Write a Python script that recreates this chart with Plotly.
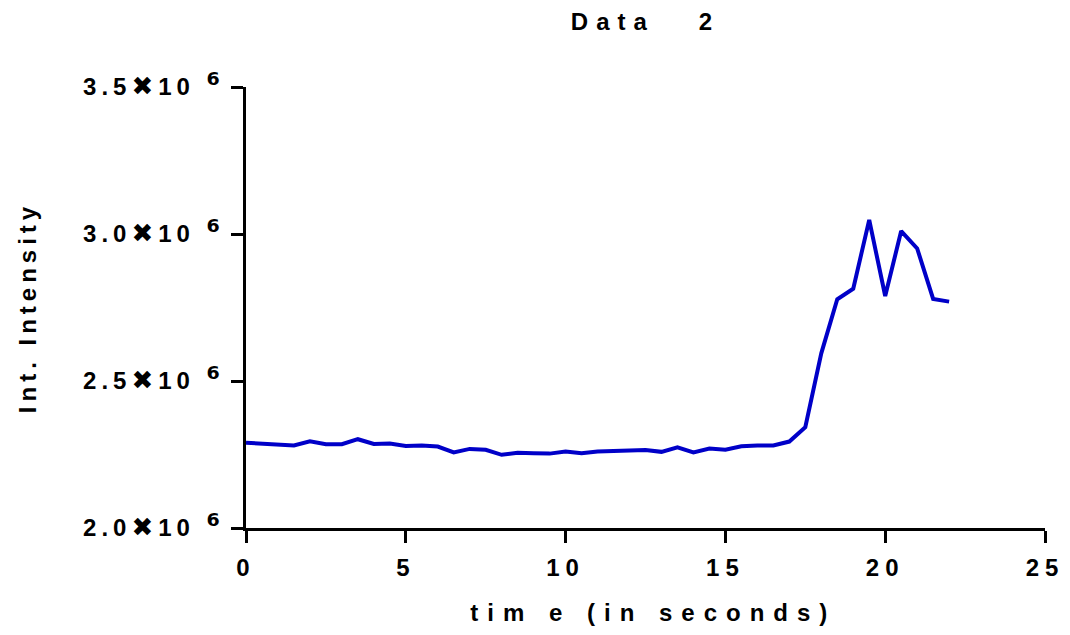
import plotly.graph_objects as go

# Sampling times (s) and integrated intensity
time_s = [0, 0.5, 1, 1.5, 2, 2.5, 3, 3.5, 4, 4.5, 5, 5.5, 6, 6.5, 7, 7.5, 8, 8.5,
          9, 9.5, 10, 10.5, 11, 11.5, 12, 12.5, 13, 13.5, 14, 14.5, 15, 15.5, 16,
          16.5, 17, 17.5, 18, 18.5, 19, 19.5, 20, 20.5, 21, 21.5, 22]
intensity = [2290000, 2287000, 2287000, 2281000, 2295000, 2285000, 2285000, 2302000,
             2286000, 2287000, 2279000, 2281000, 2277000, 2257000, 2269000, 2266000,
             2249000, 2256000, 2254000, 2253000, 2260000, 2254000, 2260000, 2262000,
             2266000, 2265000, 2259000, 2274000, 2257000, 2270000, 2266000, 2278000,
             2281000, 2281000, 2294000, 2343000, 2594000, 2778000, 2814000, 3048000,
             2789000, 3010000, 2951000, 2779000, 2770000]

x_ticks = [0, 5, 10, 15, 20, 25]
y_ticks = [2000000, 2500000, 3000000, 3500000]
y_tick_mantissa = ["2.0", "2.5", "3.0", "3.5"]
y_tick_text = [m + '<span style="font-size:26px">\u2716</span>10 '
               '<span style="font-family:DejaVu Sans;font-size:31px">\u2076</span>'
               for m in y_tick_mantissa]

FONT = "Liberation Sans, Arial, DejaVu Sans, sans-serif"
SIZE = 24

fig = go.Figure()
fig.add_trace(go.Scatter(
    x=time_s, y=intensity, mode="lines",
    line=dict(color="#0000C8", width=4),
    showlegend=False,
))

axis_common = dict(
    showline=True, linewidth=3, linecolor="black",
    ticks="outside", ticklen=12, tickwidth=3, tickcolor="black",
    showgrid=False, zeroline=False,
    tickfont=dict(family=FONT, size=SIZE, color="black", weight="bold"),
)

fig.update_layout(
    width=1070, height=635,
    margin=dict(l=246, r=22, t=87, b=107),
    paper_bgcolor="white", plot_bgcolor="white",
    font=dict(family=FONT, size=SIZE, color="black", weight="bold"),
    title=dict(text="<b>Data\u00a0\u00a0\u00a02</b>", x=0.5, xref="paper",
               xanchor="center", y=1 - 22 / 635, yanchor="middle", yref="container",
               font=dict(family=FONT, size=SIZE, color="black", weight="bold")),
    xaxis=dict(range=[0, 25], tickvals=x_ticks, ticklabelstandoff=4,
               title=dict(text="<b>\u00a0tim e (in seconds)</b>", standoff=25,
                          font=dict(family=FONT, size=SIZE, weight="bold")),
               **axis_common),
    yaxis=dict(range=[2000000, 3500000], tickvals=y_ticks, ticktext=y_tick_text,
               ticklabelstandoff=1,
               title=dict(text="<b>Int. Intensity</b>", standoff=80,
                          font=dict(family=FONT, size=SIZE, weight="bold")),
               **axis_common),
)

# Wide letter spacing on the chart text
spacing_js = """
var gd = document.getElementById('{plot_id}');
function spaceText() {
  var rules = [['.gtitle', '8px'], ['.xtitle', '9px'], ['.ytitle', '5px'],
               ['.xtick text', '6px'], ['.ytick text', '5px']];
  rules.forEach(function (r) {
    gd.querySelectorAll(r[0]).forEach(function (t) { t.style.letterSpacing = r[1]; });
  });
}
spaceText();
gd.on('plotly_afterplot', spaceText);
"""

fig.write_html("out.html", post_script=spacing_js)
